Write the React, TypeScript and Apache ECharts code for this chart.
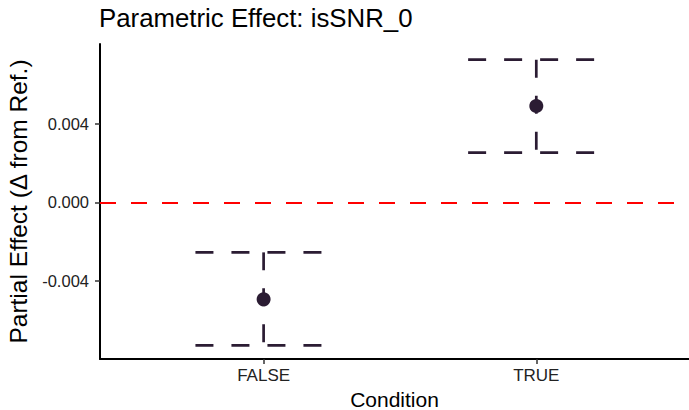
import React, { useEffect, useRef } from "react";
import * as echarts from "echarts";

const categories = ["FALSE", "TRUE"];
const estimates = [-0.00495, 0.00493];
const lowerCI = [-0.0073, 0.00255];
const upperCI = [-0.00255, 0.0073];
const yTicks = [-0.004, 0, 0.004];
const titleText = "Parametric Effect: isSNR_0";
const xName = "Condition";
const yName = "Partial Effect (\u0394 from Ref.)";

const DARK = "#2b1c33";

export default function App() {
  const ref = useRef<HTMLDivElement>(null);
  useEffect(() => {
    if (!ref.current) return;
    const chart = echarts.init(ref.current, null, { renderer: "svg" });
    const xs = categories.map((_, i) => i + 1);
    const errData = xs.map((x, i) => [x, lowerCI[i], upperCI[i]]);
    const ptData = xs.map((x, i) => [x, estimates[i]]);
    const font = "Liberation Sans, Arial, sans-serif";
    chart.setOption({
      animation: false,
      textStyle: { fontFamily: font },
      title: {
        text: titleText,
        left: 99,
        top: 3,
        padding: [2, 0, 0, 0],
        textStyle: { fontSize: 25.8, fontWeight: "normal", color: "#000", fontFamily: font },
      },
      grid: { left: 100, right: 0, top: 44, bottom: 51, containLabel: false, outerBoundsMode: "none" },
      xAxis: {
        type: "value",
        min: 0.4,
        max: 2.56,
        name: xName,
        nameLocation: "middle",
        nameGap: 29,
        nameTextStyle: { fontSize: 21, color: "#000", fontFamily: font },
        axisLine: { show: true, onZero: false, lineStyle: { color: "#000", width: 2 } },
        axisTick: { show: true, customValues: xs, length: 5, lineStyle: { color: "#333", width: 1.5 } },
        axisLabel: {
          customValues: xs,
          formatter: (v: number) => categories[Math.round(v) - 1] ?? "",
          fontSize: 17,
          color: "#222",
          margin: 8,
        },
        splitLine: { show: false },
      },
      yAxis: {
        type: "value",
        min: -0.008,
        max: 0.0081,
        name: yName,
        nameLocation: "middle",
        nameGap: 55,
        nameTextStyle: { fontSize: 24.5, color: "#000", fontFamily: font },
        axisLine: { show: true, onZero: false, lineStyle: { color: "#000", width: 2 } },
        axisTick: { show: true, customValues: yTicks, length: 5, lineStyle: { color: "#333", width: 1.5 } },
        axisLabel: {
          customValues: yTicks,
          formatter: (v: number) => v.toFixed(3),
          fontSize: 16.5,
          color: "#222",
          margin: 11,
        },
        splitLine: { show: false },
      },
      series: [
        {
          type: "line",
          data: [],
          markLine: {
            silent: true,
            symbol: "none",
            label: { show: false },
            lineStyle: { color: "#ff0000", type: [16, 15], width: 2.2 },
            data: [{ yAxis: 0 }],
          },
        },
        {
          type: "custom",
          data: errData,
          renderItem: (params: any, api: any) => {
            const x = api.value(0);
            const lo = api.value(1);
            const hi = api.value(2);
            const pTop = api.coord([x, hi]);
            const pBot = api.coord([x, lo]);
            const l1 = api.coord([x - 0.25, hi]);
            const r1 = api.coord([x + 0.25, hi]);
            const l2 = api.coord([x - 0.25, lo]);
            const r2 = api.coord([x + 0.25, lo]);
            const style = { stroke: DARK, lineWidth: 2.7, lineDash: [18, 18], fill: null };
            return {
              type: "group",
              children: [
                { type: "line", shape: { x1: pTop[0], y1: pTop[1], x2: pBot[0], y2: pBot[1] }, style },
                { type: "line", shape: { x1: l1[0], y1: l1[1], x2: r1[0], y2: r1[1] }, style },
                { type: "line", shape: { x1: l2[0], y1: l2[1], x2: r2[0], y2: r2[1] }, style },
              ],
            };
          },
          z: 3,
        },
        {
          type: "scatter",
          data: ptData,
          symbol: "circle",
          symbolSize: 14,
          itemStyle: { color: DARK, opacity: 1 },
          z: 4,
        },
      ],
    });
    return () => chart.dispose();
  }, []);
  return <div ref={ref} style={{ width: 689, height: 410, position: "absolute", left: 0, top: 0 }} />;
}
